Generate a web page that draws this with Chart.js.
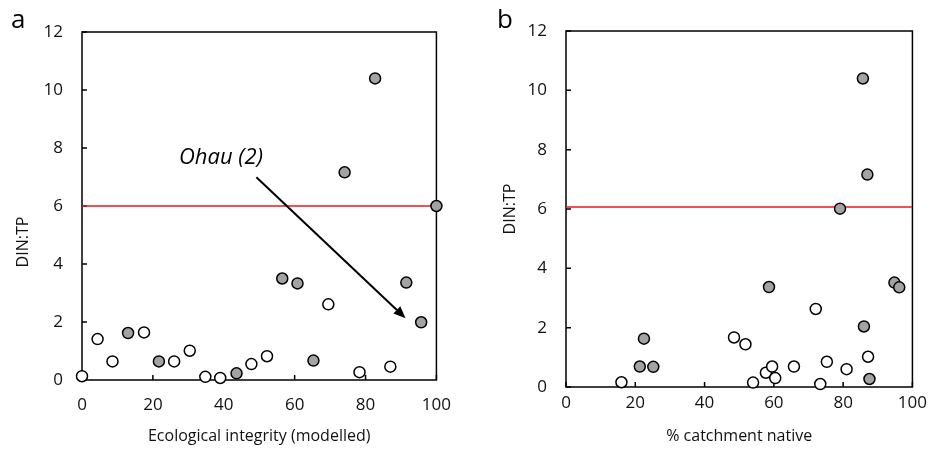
<!doctype html>
<html>
<head>
<meta charset="utf-8">
<title>DIN:TP</title>
<script src="https://cdn.jsdelivr.net/npm/chart.js@4.4.1/dist/chart.umd.min.js"></script>
<style>
	body { margin: 0; background: #fff; }
	#wrap { position: relative; width: 933px; height: 457px; }
	canvas { position: absolute; top: 0; }
</style>
</head>
<body>
<div id="wrap">
	<canvas id="chartA" width="466" height="457" style="left:0"></canvas>
	<canvas id="chartB" width="467" height="457" style="left:466px"></canvas>
</div>
<script>
// Panel a: DIN:TP against modelled ecological integrity
var integrityOpen = [0, 4.4, 8.6, 17.5, 26, 30.4, 34.8, 39, 47.8, 52.2, 69.5, 78.3, 87];
var ratioOpenA = [0.13, 1.41, 0.64, 1.64, 0.64, 1.01, 0.11, 0.07, 0.55, 0.82, 2.61, 0.27, 0.46];
var integrityGrey = [13, 21.7, 43.6, 56.5, 60.8, 65.3, 74.1, 82.7, 91.5, 95.7, 100];
var ratioGreyA = [1.62, 0.64, 0.23, 3.5, 3.33, 0.67, 7.16, 10.4, 3.36, 1.99, 6.0];

// Panel b: DIN:TP against % native cover in the catchment
var nativeOpen = [16, 48.5, 51.8, 54, 57.7, 59.5, 60.4, 65.8, 72.1, 73.4, 75.3, 81, 87.2];
var ratioOpenB = [0.16, 1.67, 1.44, 0.15, 0.48, 0.69, 0.30, 0.69, 2.63, 0.10, 0.85, 0.60, 1.02];
var nativeGrey = [21.3, 22.5, 25.2, 58.6, 79.1, 85.7, 86, 87, 87.6, 94.8, 96.2];
var ratioGreyB = [0.69, 1.63, 0.68, 3.37, 6.01, 10.4, 2.04, 7.16, 0.27, 3.52, 3.36];

var xTicks = [0, 20, 40, 60, 80, 100];
var yTicks = [0, 2, 4, 6, 8, 10, 12];
var thresholdA = 6;
var thresholdB = 6.07;

// Ohau (2) annotation on panel a, in data units
var ohauLabel = { x: 39.2, y: 7.66 };
var ohauArrow = { x0: 49.2, y0: 6.99, x1: 91.3, y1: 2.13 };

Chart.defaults.font.family = "'Open Sans', sans-serif";
Chart.defaults.color = '#111';

function pts(xs, ys) {
	return xs.map(function(x, i) { return { x: x, y: ys[i] }; });
}

function drawArrow(ctx, x0, y0, x1, y1) {
	var ang = Math.atan2(y1 - y0, x1 - x0);
	var head = 12, w = 5;
	var c = Math.cos(ang), s = Math.sin(ang);
	ctx.beginPath();
	ctx.moveTo(x0, y0);
	ctx.lineTo(x1 - head * c, y1 - head * s);
	ctx.stroke();
	ctx.beginPath();
	ctx.moveTo(x1, y1);
	ctx.lineTo(x1 - head * c + w * s, y1 - head * s - w * c);
	ctx.lineTo(x1 - head * c - w * s, y1 - head * s + w * c);
	ctx.closePath();
	ctx.fill();
}

// box round the plot with Excel-style inward ticks, panel letter, y title, arrow note
var frame = {
	id: 'frame',
	beforeDatasetsDraw: function(chart) {
		var ctx = chart.ctx, a = chart.chartArea;
		var xs = chart.scales.x, ys = chart.scales.y;
		ctx.save();
		ctx.strokeStyle = '#000';
		ctx.lineWidth = 1.5;
		ctx.strokeRect(a.left, a.top, a.right - a.left, a.bottom - a.top);
		ctx.beginPath();
		xTicks.forEach(function(v) {
			var px = xs.getPixelForValue(v);
			ctx.moveTo(px, a.bottom);
			ctx.lineTo(px, a.bottom - 5);
		});
		yTicks.forEach(function(v) {
			var py = ys.getPixelForValue(v);
			ctx.moveTo(a.left, py);
			ctx.lineTo(a.left + 5, py);
		});
		ctx.stroke();
		ctx.restore();
	},
	afterDraw: function(chart, args, opts) {
		var ctx = chart.ctx;
		var xs = chart.scales.x, ys = chart.scales.y;
		ctx.save();
		ctx.fillStyle = '#000';
		ctx.font = "26px 'Open Sans', sans-serif";
		ctx.textAlign = 'left';
		ctx.textBaseline = 'alphabetic';
		ctx.fillText(opts.letter, opts.letterX, 28);

		ctx.fillStyle = '#111';
		ctx.font = "16px 'Open Sans', sans-serif";
		ctx.translate(opts.yTitleX, opts.yTitleY);
		ctx.rotate(-Math.PI / 2);
		ctx.textAlign = 'center';
		ctx.textBaseline = 'middle';
		ctx.fillText('DIN:TP', 0, 0);
		ctx.restore();

		if (opts.note) {
			ctx.save();
			ctx.fillStyle = '#000';
			ctx.strokeStyle = '#000';
			ctx.lineWidth = 2;
			ctx.font = "italic 22px 'Open Sans', sans-serif";
			ctx.textAlign = 'center';
			ctx.textBaseline = 'middle';
			ctx.fillText('Ohau (2)', xs.getPixelForValue(ohauLabel.x), ys.getPixelForValue(ohauLabel.y));
			drawArrow(ctx,
				xs.getPixelForValue(ohauArrow.x0), ys.getPixelForValue(ohauArrow.y0),
				xs.getPixelForValue(ohauArrow.x1), ys.getPixelForValue(ohauArrow.y1));
			ctx.restore();
		}
	}
};

function makeChart(id, cfg) {
	return new Chart(document.getElementById(id), {
		type: 'scatter',
		data: {
			datasets: [{
				data: pts(cfg.greyX, cfg.greyY),
				backgroundColor: '#a3a3a3',
				borderColor: '#000',
				borderWidth: 1.5,
				pointRadius: 5.5,
				clip: false
			}, {
				data: pts(cfg.openX, cfg.openY),
				backgroundColor: '#fff',
				borderColor: '#000',
				borderWidth: 1.5,
				pointRadius: 5.5,
				clip: false
			}, {
				data: [{ x: 0, y: cfg.threshold }, { x: 100, y: cfg.threshold }],
				showLine: true,
				borderColor: '#e8191c',
				borderWidth: 1.5,
				pointRadius: 0
			}]
		},
		options: {
			responsive: false,
			animation: false,
			events: [],
			layout: { padding: cfg.padding },
			plugins: {
				legend: { display: false },
				tooltip: { enabled: false },
				frame: cfg.frame
			},
			scales: {
				x: {
					type: 'linear',
					min: 0,
					max: 100,
					afterBuildTicks: function(s) { s.ticks = xTicks.map(function(v) { return { value: v }; }); },
					afterFit: function(s) { s.height = cfg.xHeight; },
					grid: { display: false, drawTicks: false },
					border: { display: false },
					ticks: { font: { size: 17 }, color: '#111', padding: cfg.xPad, maxRotation: 0 },
					title: { display: true, text: cfg.xTitle, font: { size: 16 }, color: '#111', padding: { top: 4, bottom: 11 } }
				},
				y: {
					min: 0,
					max: 12,
					afterBuildTicks: function(s) { s.ticks = yTicks.map(function(v) { return { value: v }; }); },
					afterFit: function(s) { s.width = cfg.yWidth; },
					grid: { display: false, drawTicks: false },
					border: { display: false },
					ticks: { font: { size: 17 }, color: '#111', padding: 19 }
				}
			}
		},
		plugins: [frame]
	});
}

window.onload = function() {
	makeChart('chartA', {
		greyX: integrityGrey, greyY: ratioGreyA,
		openX: integrityOpen, openY: ratioOpenA,
		threshold: thresholdA,
		xTitle: 'Ecological integrity (modelled)',
		padding: { left: 0, top: 32, right: 29, bottom: 0 },
		yWidth: 82, xHeight: 77, xPad: 15,
		frame: { letter: 'a', letterX: 11, yTitleX: 23, yTitleY: 242, note: true }
	});
	makeChart('chartB', {
		greyX: nativeGrey, greyY: ratioGreyB,
		openX: nativeOpen, openY: ratioOpenB,
		threshold: thresholdB,
		xTitle: '% catchment native',
		padding: { left: 0, top: 31, right: 16, bottom: 0 },
		yWidth: 100, xHeight: 70, xPad: 6,
		frame: { letter: 'b', letterX: 31, yTitleX: 44, yTitleY: 209, note: false }
	});
};
</script>
</body>
</html>
